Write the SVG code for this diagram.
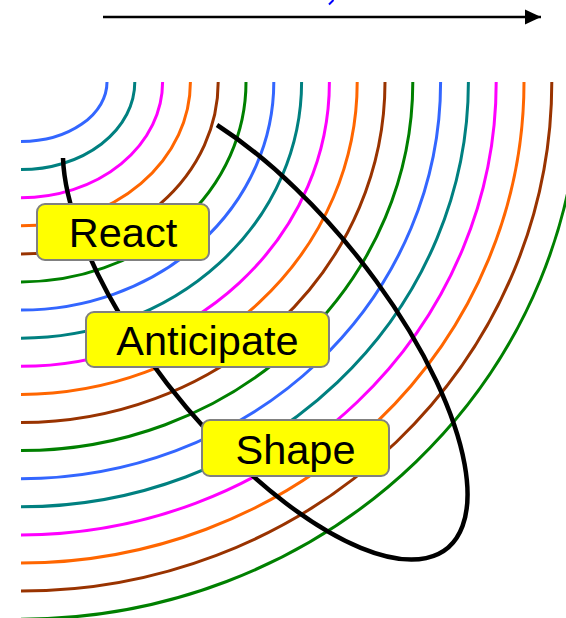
<svg xmlns="http://www.w3.org/2000/svg" width="566" height="618" viewBox="0 0 566 618">
  <style>
    .arc { fill: none; stroke-width: 3; }
    .c0 { stroke: #3366FF; }
    .c1 { stroke: #008080; }
    .c2 { stroke: #FF00FF; }
    .c3 { stroke: #FF6600; }
    .c4 { stroke: #993300; }
    .c5 { stroke: #008000; }
    .box { fill: #FFFF00; stroke: #808080; stroke-width: 2; }
    .lbl { font-family: "Liberation Sans", Arial, sans-serif; font-size: 41.5px; fill: #000000; text-anchor: middle; }
  </style>
  <defs>
    <marker id="arrowhead" markerUnits="userSpaceOnUse" markerWidth="18" markerHeight="16" refX="16" refY="8" orient="auto">
      <polygon points="0,0.5 16,8 0,15.5" fill="#000000"/>
    </marker>
  </defs>
  <rect width="566" height="618" fill="#FFFFFF"/>
  <g id="arcs">
    <path class="arc c0" d="M21 141.5 A86 59.5 0 0 0 107 82"/>
    <path class="arc c1" d="M21 169.6 A113.8 87.6 0 0 0 134.8 82"/>
    <path class="arc c2" d="M21 197.7 A141.6 115.7 0 0 0 162.6 82"/>
    <path class="arc c3" d="M21 225.8 A169.4 143.8 0 0 0 190.4 82"/>
    <path class="arc c4" d="M21 253.9 A197.2 171.9 0 0 0 218.2 82"/>
    <path class="arc c5" d="M21 282 A225 200 0 0 0 246 82"/>
    <path class="arc c0" d="M21 310.1 A252.8 228.1 0 0 0 273.8 82"/>
    <path class="arc c1" d="M21 338.2 A280.6 256.2 0 0 0 301.6 82"/>
    <path class="arc c2" d="M21 366.3 A308.4 284.3 0 0 0 329.4 82"/>
    <path class="arc c3" d="M21 394.4 A336.2 312.4 0 0 0 357.2 82"/>
    <path class="arc c4" d="M21 422.5 A364 340.5 0 0 0 385 82"/>
    <path class="arc c5" d="M21 450.6 A391.8 368.6 0 0 0 412.8 82"/>
    <path class="arc c0" d="M21 478.7 A419.6 396.7 0 0 0 440.6 82"/>
    <path class="arc c1" d="M21 506.8 A447.4 424.8 0 0 0 468.4 82"/>
    <path class="arc c2" d="M21 534.9 A475.2 452.9 0 0 0 496.2 82"/>
    <path class="arc c3" d="M21 563 A503 481 0 0 0 524 82"/>
    <path class="arc c4" d="M21 591.1 A530.8 509.1 0 0 0 551.8 82"/>
    <path class="arc c5" d="M21 619.2 A558.6 537.2 0 0 0 579.6 82"/>
  </g>
  <g id="ellipse">
    <path d="M217 125 A289 114 51 1 1 63 158" fill="none" stroke="#000000" stroke-width="4.5"/>
  </g>
  <g id="connectors">
    <line x1="103" y1="17" x2="541" y2="17" stroke="#000000" stroke-width="2.5" marker-end="url(#arrowhead)"/>
    <path d="M329 4.5 L333.5 0" stroke="#0000FF" stroke-width="2" fill="none"/>
  </g>
  <g id="node-react">
    <rect class="box" x="37" y="204" width="172" height="56" rx="8"/>
    <text class="lbl" x="123" y="247">React</text>
  </g>
  <g id="node-anticipate">
    <rect class="box" x="86" y="312" width="243" height="55" rx="8"/>
    <text class="lbl" x="207.5" y="355">Anticipate</text>
  </g>
  <g id="node-shape">
    <rect class="box" x="202" y="420" width="187" height="56" rx="8"/>
    <text class="lbl" x="295.5" y="464">Shape</text>
  </g>
</svg>
